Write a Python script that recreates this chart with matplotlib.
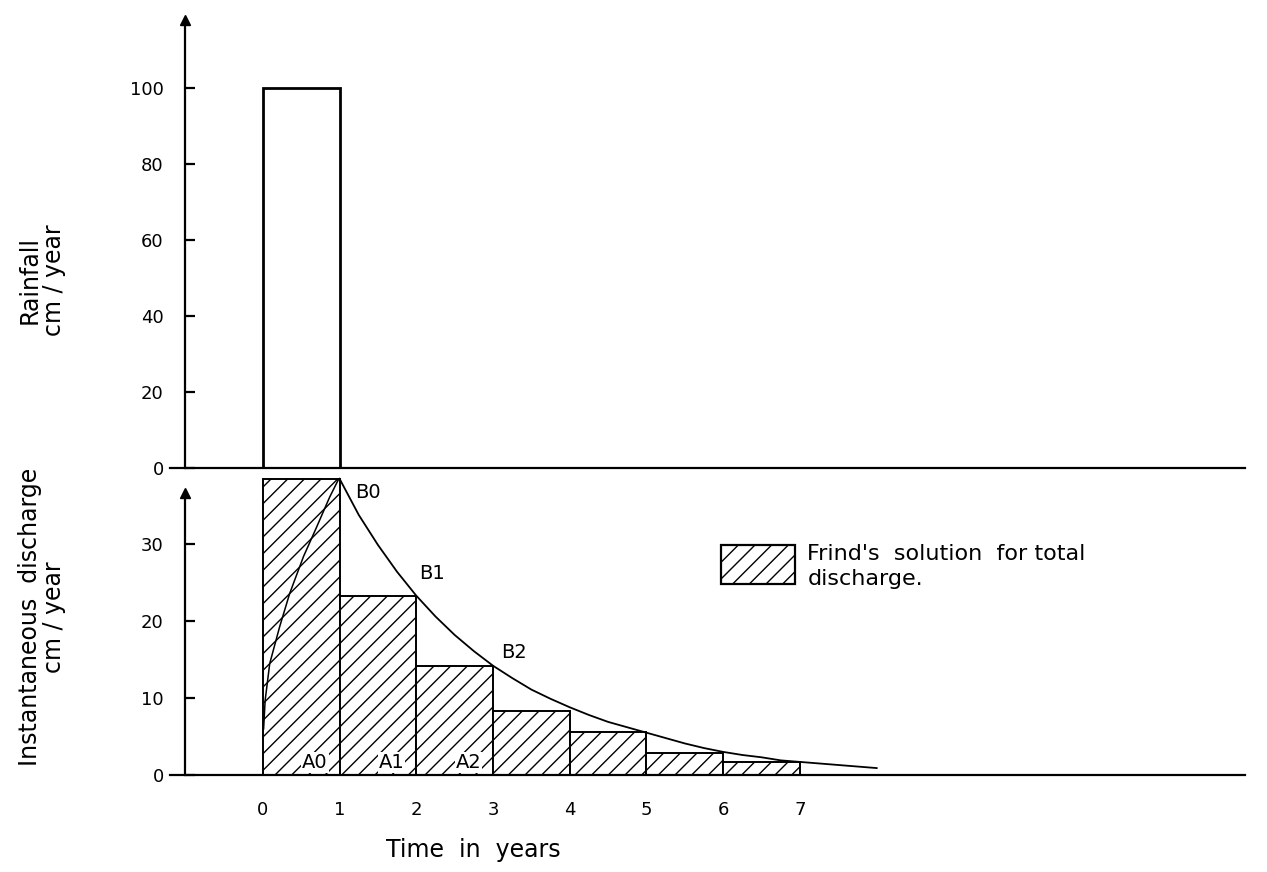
import matplotlib
matplotlib.use('Agg')
import matplotlib.pyplot as plt
from matplotlib.patches import Rectangle

plt.rcParams['font.family'] = ['DejaVu Sans']
plt.rcParams['hatch.linewidth'] = 1.0

# rainfall pulse
rain_x = [0]
rain_h = [100]
rain_ticks = [0, 20, 40, 60, 80, 100]

# Frind's solution (bar per year)
bar_x = [0, 1, 2, 3, 4, 5, 6]
bar_h = [38.5, 23.3, 14.2, 8.3, 5.6, 2.9, 1.7]
q_ticks = [0, 10, 20, 30]
year_ticks = [0, 1, 2, 3, 4, 5, 6, 7]

# instantaneous discharge curve
rise_t = [0.01, 0.03, 0.09, 0.22, 0.35, 0.53, 0.70, 0.87, 0.98, 1.00]
rise_q = [6.0, 9.7, 14.5, 19.3, 23.6, 28.4, 32.2, 36.1, 38.3, 38.5]
fall_t = [1.00, 1.25, 1.50, 1.75, 2.00, 2.25, 2.50, 2.75, 3.00, 3.25, 3.50, 3.75,
          4.00, 4.25, 4.50, 4.75, 5.00, 5.25, 5.50, 5.75, 6.00, 6.25, 6.50, 6.75,
          7.00, 7.25, 7.50, 7.75, 8.00]
fall_q = [38.5, 33.8, 29.9, 26.4, 23.3, 20.6, 18.2, 16.1, 14.2, 12.6, 11.1, 9.9,
          8.8, 7.8, 6.9, 6.2, 5.5, 4.8, 4.1, 3.5, 3.0, 2.6, 2.3, 1.9,
          1.7, 1.5, 1.3, 1.1, 0.9]

b_labels = ['B0', 'B1', 'B2']
a_labels = ['A0', 'A1', 'A2']

W, H = 1267, 872
fig = plt.figure(figsize=(W / 100, H / 100), dpi=100)
left, right = 170, 1245
ax1 = fig.add_axes([left / W, 1 - 468 / H, (right - left) / W, (468 - 10) / H])
ax2 = fig.add_axes([left / W, 1 - 775 / H, (right - left) / W, (775 - 468) / H], sharex=ax1)

xlim = (-1.21, 12.80)
yaxis_x = -1.02
lw = 1.6

for ax in (ax1, ax2):
    ax.set_xlim(*xlim)
    for s in ('top', 'right'):
        ax.spines[s].set_visible(False)
    ax.spines['left'].set_position(('data', yaxis_x))
    ax.spines['left'].set_linewidth(lw)
    ax.spines['bottom'].set_linewidth(lw)
    ax.tick_params(axis='y', direction='in', length=7, width=lw, pad=15, labelsize=13)
    ax.patch.set_alpha(0)

# top panel
ax1.set_ylim(0, 120.5)
ax1.spines['left'].set_bounds(0, 118)
ax1.set_yticks(rain_ticks)
ax1.tick_params(axis='x', length=0, labelbottom=False)
ax1.bar(rain_x, rain_h, width=1, align='edge', fill=False, edgecolor='black', linewidth=2)
ax1.plot([yaxis_x], [118], marker='^', color='black', markersize=7, clip_on=False)

# bottom panel
ax2.set_ylim(0, 39.9)
ax2.spines['left'].set_bounds(0, 36.6)
ax2.set_yticks(q_ticks)
ax2.set_xticks(year_ticks)
ax2.tick_params(axis='x', length=0, pad=19, labelsize=13)
ax2.bar(bar_x, bar_h, width=1, align='edge', facecolor='white', edgecolor='black',
        linewidth=1.4, hatch='//')
ax2.plot(rise_t, rise_q, color='black', linewidth=1.1)
ax2.plot(fall_t, fall_q, color='black', linewidth=1.3)
ax2.plot([yaxis_x], [36.6], marker='^', color='black', markersize=7, clip_on=False)

b_offsets = [(11, -3), (2, 9), (6, 3)]
b_va = ['top', 'bottom', 'bottom']
for i, lab in enumerate(b_labels):
    ax2.annotate(lab, (fall_t[4 * i], fall_q[4 * i]), xytext=b_offsets[i],
                 textcoords='offset points', fontsize=14, va=b_va[i], ha='left')
for i, lab in enumerate(a_labels):
    ax2.annotate(lab, (bar_x[i] + 0.68, 0), xytext=(0, 2),
                 textcoords='offset points', fontsize=14, va='bottom', ha='center',
                 bbox=dict(facecolor='white', edgecolor='none', pad=0.5))

ax2.set_xlabel('Time  in  years', fontsize=17)
ax2.xaxis.set_label_coords((473 - left) / (right - left), (775 - 838) / 307)

# legend
ax2.add_patch(Rectangle((0.513, 0.622), 0.068, 0.127, transform=ax2.transAxes,
                        facecolor='white', edgecolor='black', linewidth=1.6,
                        hatch='//', clip_on=False))
ax2.text(0.593, 0.752, "Frind's  solution  for total\ndischarge.", transform=ax2.transAxes,
         fontsize=16, va='top', ha='left', linespacing=1.3)

fig.text(42 / W, 1 - 280 / H, 'Rainfall\ncm / year', rotation=90, fontsize=17,
         ha='center', va='center', multialignment='center', linespacing=1.0)
fig.text(42 / W, 1 - 617 / H, 'Instantaneous  discharge\ncm / year', rotation=90,
         fontsize=17, ha='center', va='center', multialignment='center', linespacing=1.0)

fig.savefig('out.png', dpi=100)
